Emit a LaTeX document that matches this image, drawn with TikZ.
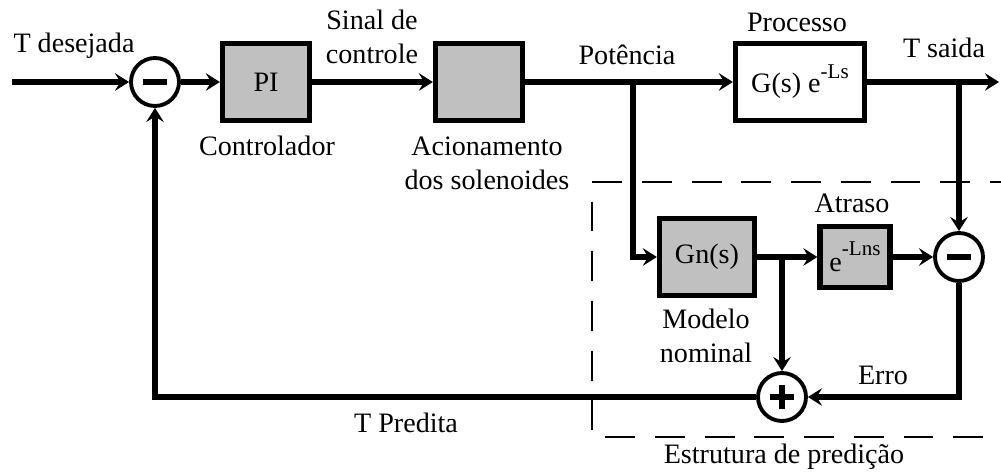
\documentclass[tikz,border=0pt]{standalone}
\usepackage{fontspec}
\setmainfont{Liberation Serif}
\usetikzlibrary{arrows.meta,calc}
\definecolor{boxgray}{RGB}{192,192,192}

\begin{document}
\begin{tikzpicture}[
  x=0.02cm, y=-0.02cm,
  every node/.style={font=\fontsize{16}{19.5}\selectfont},
  blk/.style={draw, line width=3pt, fill=boxgray, inner sep=0pt},
  sumnode/.style={draw, circle, line width=2.2pt, fill=white,
                  minimum size=0.96cm, inner sep=0pt},
  sig/.style={line width=3pt, -{Stealth[length=8pt,width=10pt,inset=3pt]}},
  sign/.style={line width=3pt},
  predbox/.style={line width=0.9pt, dash pattern=on 17pt off 11.3pt, dash phase=4.5pt}
]
  \useasboundingbox (0,0) rectangle (1001,472);

  % --- Prediction structure (dashed frame, behind everything) ---
  \draw[predbox] (1012,182) -- (592,182) -- (592,437) -- (1012,437);

  % --- Forward path ---
  \coordinate (in)  at (12,82);
  \coordinate (out) at (999,82);
  \coordinate (p1)  at (633,82);
  \coordinate (t1)  at (959,82);
  \node[sumnode] (s1) at (155,82) {};
  \node[blk, minimum width=1.74cm, minimum height=1.55cm] (pi)  at (266,82) {PI};
  \node[blk, minimum width=1.74cm, minimum height=1.55cm] (act) at (479,82) {};
  \node[blk, fill=white, minimum width=2.58cm, minimum height=1.55cm] (proc) at (800,82)
    {G(s) e\raisebox{8pt}{\fontsize{12}{12}\selectfont -Ls}};

  % --- Smith predictor ---
  \node[blk, minimum width=1.9cm, minimum height=1.55cm] (gn)  at (707,257) {Gn(s)};
  \node[blk, minimum width=1.4cm, minimum height=1.23cm] (dly) at (855,257)
    {e\raisebox{9pt}{\fontsize{12}{12}\selectfont -Lns}};
  \coordinate (b2) at (782,257);
  \node[sumnode] (s3) at (959,257) {};
  \node[sumnode] (s2) at (782,397) {};

  % signs
  \draw[sign] ($(s1)+(-12,0)$) -- ($(s1)+(12,0)$);
  \draw[sign] ($(s3)+(-12,0)$) -- ($(s3)+(12,0)$);
  \draw[sign] ($(s2)+(-12,0)$) -- ($(s2)+(12,0)$);
  \draw[sign] ($(s2)+(0,-12)$) -- ($(s2)+(0,12)$);

  % --- Connections ---
  \draw[sig] (in) -- (s1);
  \draw[sig] (s1) -- (pi);
  \draw[sig] (pi) -- (act);
  \draw[sig] (act) -- (proc);
  \draw[sig] (proc) -- (out);
  \draw[sig] (p1) |- (gn);
  \draw[sig] (t1) -- (s3);
  \draw[sig] (gn) -- (dly);
  \draw[sig] (dly) -- (s3);
  \draw[sig] (b2) -- (s2);
  \draw[sig] (s3) |- (s2);
  \draw[sig] (s2) -| (s1);

  % --- Labels ---
  \node (tDes)   at (74,46)   {T desejada};
  \node[align=center] (sinal) at (372,37) {Sinal de\\controle};
  \node (ctrl)   at (267,146) {Controlador};
  \node[align=center] (acion) at (487,163) {Acionamento\\dos solenoides};
  \node (pot)    at (627,55)  {Potência};
  \node (procLbl) at (797,22) {Processo};
  \node (tSai)   at (944,48)  {T saida};
  \node (atraso) at (852,203) {Atraso};
  \node[align=center] (modelo) at (706,336) {Modelo\\nominal};
  \node (erro)   at (883,375) {Erro};
  \node (tPred)  at (406,423) {T Predita};
  \node (estrut) at (784,457) {Estrutura de predição};
\end{tikzpicture}
\end{document}
